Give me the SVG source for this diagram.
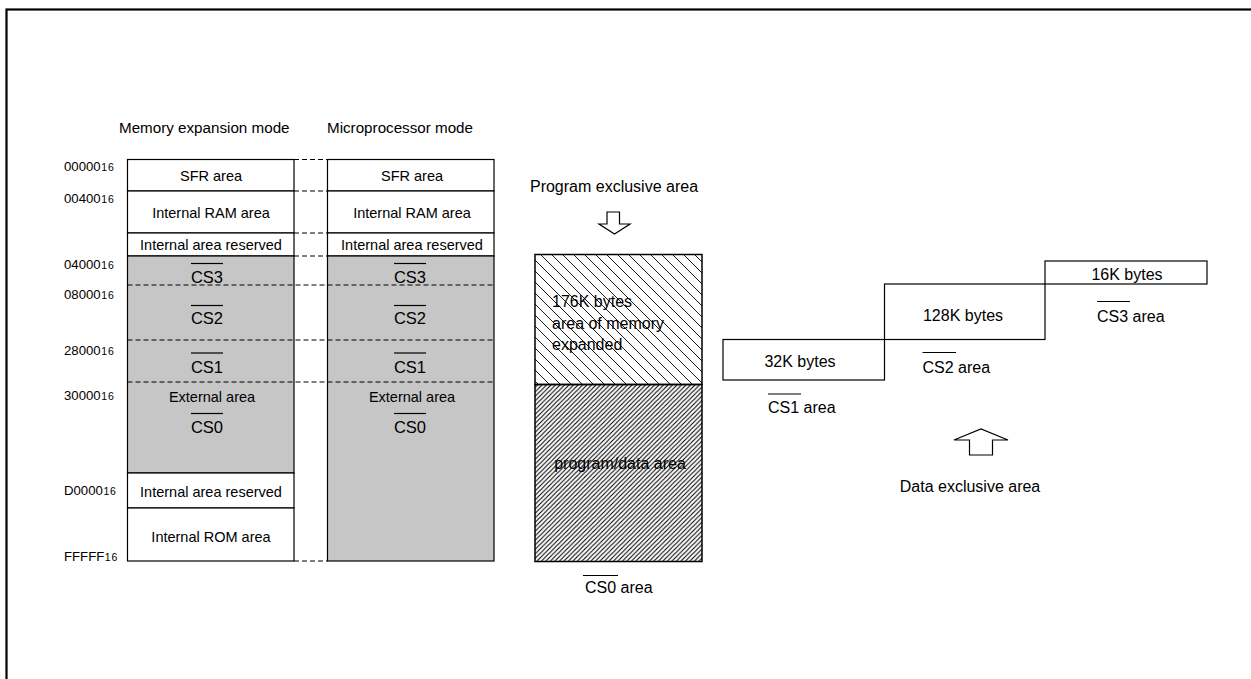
<svg xmlns="http://www.w3.org/2000/svg" width="1251" height="679" viewBox="0 0 1251 679">
<style>
text{font-family:"Liberation Sans",Arial,sans-serif;fill:#000}
.bt{font-size:14.5px;text-anchor:middle}
.cs{font-size:16.5px;text-anchor:middle}
.ad{font-size:13.2px}
.sub{font-size:10.5px;letter-spacing:0.9px}
.rt{font-size:16px}
.ti{font-size:15.2px}
.box{fill:#fff;stroke:#000;stroke-width:1.2}
.grey{fill:#c6c6c6;stroke:#000;stroke-width:1.2}
.dash{stroke:#000;stroke-width:1.2;stroke-dasharray:5 3;fill:none}
.ol{stroke:#000;stroke-width:1.2}
.arr{fill:#fff;stroke:#000;stroke-width:1.2}
</style>
<defs>
<pattern id="hatchA" patternUnits="userSpaceOnUse" width="11" height="11">
<path d="M0,0 L11,11 M-2,9 L2,13 M9,-2 L13,2" stroke="#000" stroke-width="0.9"/>
</pattern>
<pattern id="hatchB" patternUnits="userSpaceOnUse" width="4.5" height="4.5">
<path d="M0,4.5 L4.5,0 M-1,1 L1,-1 M3.5,5.5 L5.5,3.5" stroke="#000" stroke-width="1.1"/>
</pattern>
</defs>
<rect x="6.5" y="9.5" width="1260" height="700" fill="none" stroke="#000" stroke-width="2.2"/>

<text class="ti" x="119" y="133">Memory expansion mode</text>
<text class="ti" x="327" y="133">Microprocessor mode</text>

<g id="addresses">
<text class="ad" x="64" y="171">00000<tspan class="sub" dx="0.5">16</tspan></text>
<text class="ad" x="64" y="203">00400<tspan class="sub" dx="0.5">16</tspan></text>
<text class="ad" x="64" y="269">04000<tspan class="sub" dx="0.5">16</tspan></text>
<text class="ad" x="64" y="299">08000<tspan class="sub" dx="0.5">16</tspan></text>
<text class="ad" x="64" y="355">28000<tspan class="sub" dx="0.5">16</tspan></text>
<text class="ad" x="64" y="400">30000<tspan class="sub" dx="0.5">16</tspan></text>
<text class="ad" x="64" y="495">D0000<tspan class="sub" dx="0.5">16</tspan></text>
<text class="ad" x="64" y="561">FFFFF<tspan class="sub" dx="0.5">16</tspan></text>
</g>

<g id="col-memory-expansion">
<rect class="box" x="127.5" y="159.5" width="166.5" height="31.5"/>
<rect class="box" x="127.5" y="191" width="166.5" height="42"/>
<rect class="box" x="127.5" y="233" width="166.5" height="23"/>
<rect class="grey" x="127.5" y="256" width="166.5" height="217"/>
<rect class="box" x="127.5" y="473" width="166.5" height="35"/>
<rect class="box" x="127.5" y="508" width="166.5" height="53"/>
<text class="bt" x="211" y="180.5">SFR area</text>
<text class="bt" x="211" y="217.5">Internal RAM area</text>
<text class="bt" x="211" y="249.5">Internal area reserved</text>
<text class="cs" x="207" y="282.5">CS3</text>
<line class="ol" x1="191" y1="263.5" x2="223" y2="263.5"/>
<text class="cs" x="207" y="324">CS2</text>
<line class="ol" x1="191" y1="305.5" x2="223" y2="305.5"/>
<text class="cs" x="207" y="373">CS1</text>
<line class="ol" x1="191" y1="353" x2="223" y2="353"/>
<text class="bt" x="212" y="402">External area</text>
<text class="cs" x="207" y="433">CS0</text>
<line class="ol" x1="191" y1="413.5" x2="223" y2="413.5"/>
<text class="bt" x="211" y="496.5">Internal area reserved</text>
<text class="bt" x="211" y="541.5">Internal ROM area</text>
</g>

<g id="col-microprocessor">
<rect class="box" x="327.5" y="159.5" width="166.5" height="31.5"/>
<rect class="box" x="327.5" y="191" width="166.5" height="42"/>
<rect class="box" x="327.5" y="233" width="166.5" height="23"/>
<rect class="grey" x="327.5" y="256" width="166.5" height="305"/>
<text class="bt" x="412" y="180.5">SFR area</text>
<text class="bt" x="412" y="217.5">Internal RAM area</text>
<text class="bt" x="412" y="249.5">Internal area reserved</text>
<text class="cs" x="410" y="282.5">CS3</text>
<line class="ol" x1="394" y1="263.5" x2="426" y2="263.5"/>
<text class="cs" x="410" y="324">CS2</text>
<line class="ol" x1="394" y1="305.5" x2="426" y2="305.5"/>
<text class="cs" x="410" y="373">CS1</text>
<line class="ol" x1="394" y1="353" x2="426" y2="353"/>
<text class="bt" x="412" y="402">External area</text>
<text class="cs" x="410" y="433">CS0</text>
<line class="ol" x1="394" y1="413.5" x2="426" y2="413.5"/>
</g>

<g id="connectors">
<path class="dash" d="M294,159.5 H327.5 M294,191 H327.5 M294,233 H327.5 M294,256 H327.5 M294,561 H327.5"/>
<path class="dash" d="M127.5,285 H494 M127.5,340 H494 M127.5,382 H494"/>
</g>

<g id="program-area">
<text class="rt" x="614" y="192" text-anchor="middle">Program exclusive area</text>
<polygon class="arr" points="607,212 619.5,212 619.5,224 630,224 614.5,234 599,224 607,224"/>
<rect x="535" y="254.5" width="167" height="130" fill="url(#hatchA)" stroke="#000" stroke-width="1.5"/>
<rect x="535" y="384.5" width="167" height="177" fill="url(#hatchB)" stroke="#000" stroke-width="1.5"/>
<text class="rt" x="552" y="307">176K bytes</text>
<text class="rt" x="552" y="328.5">area of memory</text>
<text class="rt" x="552" y="350">expanded</text>
<text class="rt" x="620" y="469" text-anchor="middle">program/data area</text>
<text class="rt" x="585" y="593">CS0 area</text>
<line class="ol" x1="583" y1="575.5" x2="618" y2="575.5"/>
</g>

<g id="data-area">
<rect class="box" x="723" y="339.5" width="161.5" height="40.5"/>
<rect class="box" x="884.5" y="284" width="160.5" height="55.5"/>
<rect class="box" x="1045" y="261" width="162" height="23"/>
<text class="rt" x="800" y="367" text-anchor="middle">32K bytes</text>
<text class="rt" x="963" y="321" text-anchor="middle">128K bytes</text>
<text class="rt" x="1127" y="279.5" text-anchor="middle">16K bytes</text>
<text class="rt" x="768" y="412.5">CS1 area</text>
<line class="ol" x1="768" y1="394" x2="801" y2="394"/>
<text class="rt" x="922.5" y="372.5">CS2 area</text>
<line class="ol" x1="922.5" y1="352.5" x2="956" y2="352.5"/>
<text class="rt" x="1097" y="322">CS3 area</text>
<line class="ol" x1="1097" y1="301.5" x2="1130" y2="301.5"/>
<polygon class="arr" points="969.5,455 969.5,440 954,440 981,429 1008,440 992.5,440 992.5,455"/>
<text class="rt" x="970" y="492" text-anchor="middle">Data exclusive area</text>
</g>
</svg>
